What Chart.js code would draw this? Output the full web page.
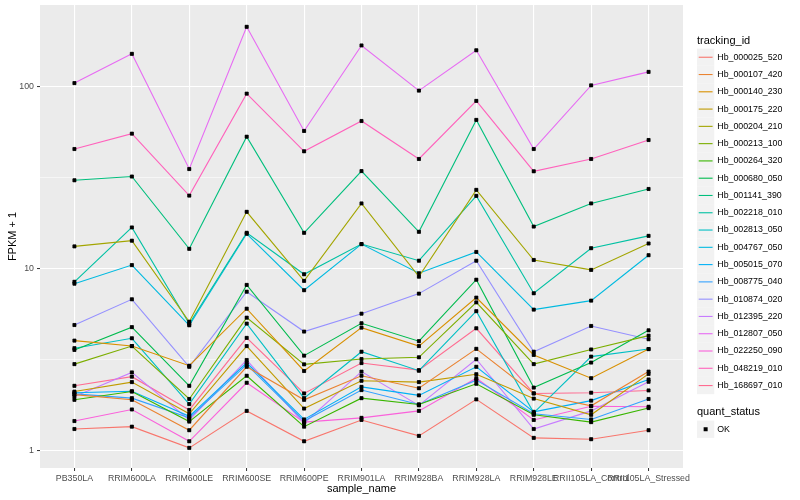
<!DOCTYPE html>
<html>
<head>
<meta charset="utf-8">
<script src="https://cdn.jsdelivr.net/npm/chart.js@4/dist/chart.umd.min.js"></script>
<style>
  html, body { margin: 0; padding: 0; background: #ffffff; }
  #chart { display: block; }
</style>
</head>
<body>
<canvas id="chart" width="800" height="500"></canvas>
<script>
const categories = ['PB350LA', 'RRIM600LA', 'RRIM600LE', 'RRIM600SE', 'RRIM600PE', 'RRIM901LA',
    'RRIM928BA', 'RRIM928LA', 'RRIM928LE', 'RRII105LA_Control', 'RRII105LA_Stressed'];

// FPKM + 1 per sample
const hb_000025_520 = [1.32, 1.36, 1.04, 1.66, 1.13, 1.48, 1.21, 1.92, 1.18, 1.16, 1.30];
const hb_000107_420 = [2.04, 1.91, 1.30, 2.90, 1.91, 2.59, 2.21, 3.64, 2.07, 1.77, 2.73];
const hb_000140_230 = [4.04, 3.77, 2.94, 6.05, 2.75, 4.76, 3.77, 6.96, 3.37, 2.51, 3.63];
const hb_000175_220 = [2.12, 2.39, 1.60, 3.77, 1.71, 2.43, 2.39, 2.64, 1.94, 1.58, 2.65];
const hb_000204_210 = [13.3, 14.3, 5.13, 20.6, 8.6, 22.9, 9.07, 27.2, 11.2, 9.88, 13.8];
const hb_000213_100 = [3.00, 3.77, 1.93, 5.40, 2.99, 3.20, 3.27, 6.55, 3.00, 3.61, 4.30];
const hb_000264_320 = [1.91, 2.12, 1.45, 2.59, 1.36, 1.95, 1.80, 2.34, 1.58, 1.44, 1.72];
const hb_000680_050 = [3.59, 4.79, 2.28, 8.17, 3.34, 5.03, 4.01, 8.73, 2.23, 3.06, 4.60];
const hb_001141_390 = [30.7, 32.2, 12.9, 53.3, 15.8, 34.5, 16.0, 65.9, 17.1, 22.9, 27.5];
const hb_002218_010 = [8.5, 16.9, 5.0, 15.8, 9.35, 13.7, 11.1, 25.2, 7.35, 13.0, 15.2];
const hb_002813_050 = [3.67, 4.16, 1.81, 5.01, 1.95, 3.51, 2.76, 5.86, 1.62, 3.30, 3.63];
const hb_004767_050 = [8.3, 10.5, 4.9, 15.6, 7.64, 13.7, 9.47, 12.4, 5.98, 6.70, 11.9];
const hb_005015_070 = [2.09, 2.13, 1.55, 3.05, 1.49, 2.25, 2.02, 2.90, 1.64, 1.89, 2.47];
const hb_008775_040 = [2.06, 1.95, 1.52, 2.98, 1.46, 2.16, 1.80, 2.45, 1.60, 1.49, 1.93];
const hb_010874_020 = [4.92, 6.81, 2.90, 7.50, 4.53, 5.68, 7.32, 11.1, 3.51, 4.86, 4.11];
const hb_012395_220 = [1.99, 2.70, 1.48, 3.16, 1.42, 2.73, 1.78, 3.19, 1.32, 1.66, 2.40];
const hb_012807_050 = [105, 152, 35.4, 214, 57.3, 169, 95.5, 159, 45.6, 102, 121];
const hb_022250_090 = [1.46, 1.69, 1.13, 2.37, 1.44, 1.52, 1.66, 2.51, 1.48, 1.76, 1.75];
const hb_048219_010 = [45.6, 55.4, 25.3, 91.9, 44.3, 65.0, 40.2, 83.8, 34.4, 40.2, 51.1];
const hb_168697_010 = [2.28, 2.56, 1.68, 4.18, 2.07, 3.04, 2.78, 4.72, 2.07, 2.09, 2.15];

const seriesNames = ['Hb_000025_520', 'Hb_000107_420', 'Hb_000140_230', 'Hb_000175_220', 'Hb_000204_210',
    'Hb_000213_100', 'Hb_000264_320', 'Hb_000680_050', 'Hb_001141_390', 'Hb_002218_010',
    'Hb_002813_050', 'Hb_004767_050', 'Hb_005015_070', 'Hb_008775_040', 'Hb_010874_020',
    'Hb_012395_220', 'Hb_012807_050', 'Hb_022250_090', 'Hb_048219_010', 'Hb_168697_010'];
const seriesValues = [hb_000025_520, hb_000107_420, hb_000140_230, hb_000175_220, hb_000204_210,
    hb_000213_100, hb_000264_320, hb_000680_050, hb_001141_390, hb_002218_010,
    hb_002813_050, hb_004767_050, hb_005015_070, hb_008775_040, hb_010874_020,
    hb_012395_220, hb_012807_050, hb_022250_090, hb_048219_010, hb_168697_010];

// ggplot default hue palette for 20 levels
const COLORS = ['#F8766D', '#EA8331', '#D89000', '#C09B00', '#A3A500', '#7CAE00', '#39B600', '#00BB4E',
    '#00BF7D', '#00C1A3', '#00BFC4', '#00BAE0', '#00B0F6', '#35A2FF', '#9590FF', '#C77CFF',
    '#E76BF3', '#FA62DB', '#FF62BC', '#FF6C91'];

const yMajor = [1, 10, 100];
const yMinor = [Math.sqrt(10), Math.sqrt(1000)];

const FONT = '"Liberation Sans", Arial, sans-serif';

const datasets = seriesNames.map((name, i) => ({
    label: name,
    data: seriesValues[i].map((v, j) => ({ x: j, y: v })),
    borderColor: COLORS[i],
    borderWidth: 1.1,
    pointStyle: 'rect',
    pointRadius: 2.2,
    pointBackgroundColor: '#000000',
    pointBorderColor: '#000000',
    pointBorderWidth: 0.4,
    tension: 0
}));

// points sit above every line, like geom_point after geom_line
const pointsOnTop = {
    id: 'pointsOnTop',
    afterDatasetsDraw(chart) {
        const ctx = chart.ctx;
        ctx.save();
        chart.data.datasets.forEach((ds, i) => {
            chart.getDatasetMeta(i).data.forEach(p => p.draw(ctx, chart.chartArea));
        });
        ctx.restore();
    }
};

const panelBg = {
    id: 'panelBg',
    beforeDraw(chart) {
        const { ctx, chartArea: a } = chart;
        ctx.save();
        ctx.fillStyle = '#EBEBEB';
        ctx.fillRect(a.left, a.top, a.right - a.left, a.bottom - a.top);
        ctx.restore();
    }
};

const ggLegend = {
    id: 'ggLegend',
    afterDraw(chart) {
        const ctx = chart.ctx;
        const x0 = 697, key = 17.28, top = 48.6;
        ctx.save();
        ctx.textBaseline = 'middle';
        ctx.textAlign = 'left';
        ctx.fillStyle = '#000000';
        ctx.font = '11px ' + FONT;
        ctx.fillText('tracking_id', x0, 40.5);
        ctx.font = '8.8px ' + FONT;
        seriesNames.forEach((name, i) => {
            const y = top + i * key;
            ctx.fillStyle = '#F2F2F2';
            ctx.fillRect(x0, y, key, key);
            ctx.strokeStyle = COLORS[i];
            ctx.lineWidth = 1.1;
            ctx.beginPath();
            ctx.moveTo(x0 + 1.7, y + key / 2);
            ctx.lineTo(x0 + key - 1.7, y + key / 2);
            ctx.stroke();
            ctx.fillStyle = '#000000';
            ctx.fillText(name, x0 + key + 3, y + key / 2);
        });
        ctx.font = '11px ' + FONT;
        ctx.fillText('quant_status', x0, 412.3);
        const y = 420.6;
        ctx.fillStyle = '#F2F2F2';
        ctx.fillRect(x0, y, key, key);
        ctx.fillStyle = '#000000';
        ctx.fillRect(x0 + key / 2 - 2, y + key / 2 - 2, 4, 4);
        ctx.font = '8.8px ' + FONT;
        ctx.fillText('OK', x0 + key + 3, y + key / 2);
        ctx.restore();
    }
};

new Chart(document.getElementById('chart').getContext('2d'), {
    type: 'line',
    data: { datasets: datasets },
    options: {
        responsive: false,
        animation: false,
        devicePixelRatio: 1,
        layout: { padding: { top: 5, right: 117, left: 0, bottom: 0 } },
        plugins: {
            legend: { display: false },
            tooltip: { enabled: false }
        },
        scales: {
            x: {
                type: 'linear',
                min: -0.6,
                max: categories.length - 1 + 0.6,
                afterBuildTicks: axis => { axis.ticks = categories.map((c, i) => ({ value: i })); },
                afterFit: axis => {
                    axis.height = 32;
                    axis.paddingLeft = 0;
                    axis.paddingRight = 0;
                },
                border: { display: false },
                grid: {
                    color: '#FFFFFF',
                    lineWidth: 1.1,
                    drawTicks: true,
                    tickLength: 3,
                    tickColor: '#333333',
                    tickWidth: 1
                },
                ticks: {
                    autoSkip: false,
                    maxRotation: 0,
                    minRotation: 0,
                    padding: 2,
                    color: '#4D4D4D',
                    font: { family: FONT, size: 8.8 },
                    callback: v => categories[v]
                },
                title: {
                    display: true,
                    text: 'sample_name',
                    color: '#000000',
                    font: { family: FONT, size: 11 },
                    padding: { top: 0, bottom: 4 }
                }
            },
            y: {
                type: 'logarithmic',
                min: 0.806,
                max: 282,
                afterBuildTicks: axis => {
                    axis.ticks = yMajor.concat(yMinor).sort((a, b) => a - b).map(v => ({ value: v }));
                },
                afterFit: axis => {
                    axis.width = 40;
                    axis.paddingTop = 0;
                    axis.paddingBottom = 0;
                },
                border: { display: false },
                grid: {
                    color: '#FFFFFF',
                    lineWidth: ctx => (yMajor.includes(ctx.tick.value) ? 1.1 : 0.55),
                    drawTicks: true,
                    tickLength: 3,
                    tickColor: ctx => (yMajor.includes(ctx.tick.value) ? '#333333' : 'rgba(0,0,0,0)'),
                    tickWidth: 1
                },
                ticks: {
                    padding: 3,
                    color: '#4D4D4D',
                    font: { family: FONT, size: 8.8 },
                    callback: v => (yMajor.includes(v) ? String(v) : '')
                },
                title: {
                    display: true,
                    text: 'FPKM + 1',
                    color: '#000000',
                    font: { family: FONT, size: 11 },
                    padding: { top: 6, bottom: 0 }
                }
            }
        }
    },
    plugins: [panelBg, pointsOnTop, ggLegend]
});
</script>
</body>
</html>
